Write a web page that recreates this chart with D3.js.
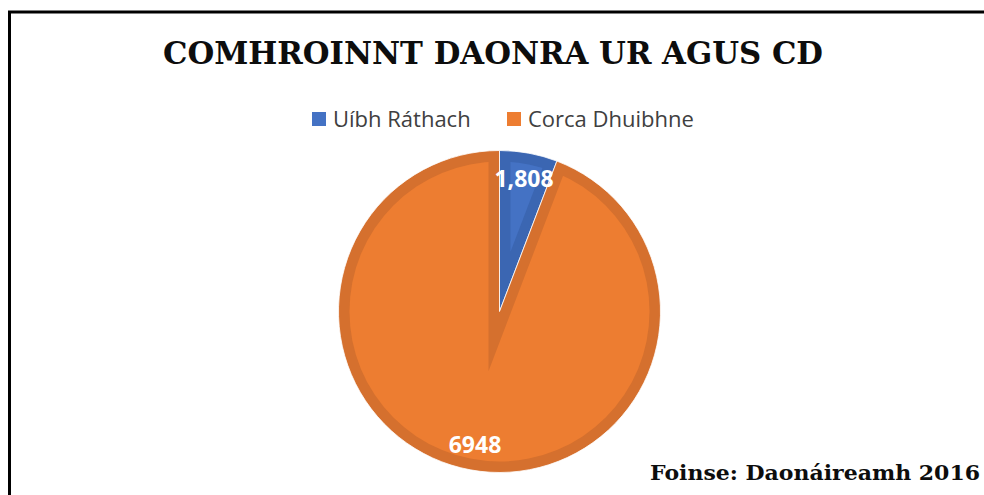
<!DOCTYPE html>
<html>
<head>
  <meta charset="utf-8">
  <title>Comhroinnt Daonra</title>
  <style>
    body, html {
      margin: 0;
      padding: 0;
      background: #fff;
      overflow: hidden;
    }
    svg { display: block; }
  </style>
</head>
<body>
  <svg id="svg" width="984" height="495"></svg>

  <script src="https://d3js.org/d3.v7.min.js"></script>
  <script>
    // chart data
    const categories = ["Uíbh Ráthach", "Corca Dhuibhne"]
    const labels = ["1,808", "6948"]          // data labels as printed
    const shares = [5.8, 94.2]                // slice sizes as drawn (% of circle)
    const title = "COMHROINNT DAONRA UR AGUS CD"
    const source = "Foinse: Daonáireamh 2016"

    const lightColors = ["#4472c4", "#ed7d31"]
    const darkColors = ["#3b66b2", "#d5702e"]

    const cx = 499.5
    const cy = 311.5
    const radius = 161
    const bevel = 11

    const svg = d3.select("#svg")

    // frame (right and bottom edges fall outside the picture)
    svg.append("rect")
      .attr("x", 9.5)
      .attr("y", 12)
      .attr("width", 1000)
      .attr("height", 600)
      .attr("fill", "none")
      .attr("stroke", "#000")
      .attr("stroke-width", 3)

    svg.append("text")
      .attr("x", 493)
      .attr("y", 64)
      .attr("text-anchor", "middle")
      .attr("font-family", "'DejaVu Serif', serif")
      .attr("font-weight", "bold")
      .attr("font-size", 31)
      .attr("textLength", 660)
      .attr("lengthAdjust", "spacingAndGlyphs")
      .attr("fill", "#0d0d0d")
      .text(title)

    // legend
    const legendX = [312, 507]
    const legend = svg.append("g")
      .selectAll("g")
      .data(categories)
      .join("g")
      .attr("transform", (d, i) => `translate(${legendX[i]}, 112)`)

    legend.append("rect")
      .attr("width", 14)
      .attr("height", 14)
      .attr("fill", (d, i) => lightColors[i])

    legend.append("text")
      .attr("x", 21)
      .attr("y", 14.8)
      .attr("font-family", "'Open Sans', sans-serif")
      .attr("font-size", 22)
      .attr("fill", "#404040")
      .text(d => d)

    // pie
    const pie = d3.pie().sort(null).value(d => d)
    const arcs = pie(shares)

    const arcGen = d3.arc().innerRadius(0).outerRadius(radius)
    const wedgeGen = d3.arc().innerRadius(0).outerRadius(radius * 2)
    const labelArc = d3.arc().innerRadius(radius * 0.84).outerRadius(radius * 0.84)

    const defs = svg.append("defs")
    defs.append("clipPath")
      .attr("id", "innerDisc")
      .append("circle")
      .attr("r", radius - bevel)

    const graph = svg.append("g")
      .attr("transform", `translate(${cx}, ${cy})`)

    const slices = graph.selectAll("g.slice")
      .data(arcs)
      .join("g")
      .attr("class", "slice")

    slices.append("path")
      .attr("d", arcGen)
      .attr("fill", (d, i) => darkColors[i])
      .attr("stroke", "#fff")
      .attr("stroke-width", 0.8)
      .attr("stroke-linejoin", "round")

    // inset face of each slice, edges pushed in by the bevel width
    slices.append("g")
      .attr("clip-path", "url(#innerDisc)")
      .append("path")
      .attr("d", wedgeGen)
      .attr("transform", d => {
        const half = (d.endAngle - d.startAngle) / 2
        const mid = d.startAngle + half
        const off = bevel / Math.sin(half)
        return `translate(${Math.sin(mid) * off}, ${-Math.cos(mid) * off})`
      })
      .attr("fill", (d, i) => lightColors[i])

    graph.selectAll("text.label")
      .data(arcs)
      .join("text")
      .attr("class", "label")
      .attr("transform", d => `translate(${labelArc.centroid(d)})`)
      .attr("text-anchor", "middle")
      .attr("dy", "0.36em")
      .attr("font-family", "'Open Sans', sans-serif")
      .attr("font-weight", "bold")
      .attr("font-size", 23)
      .attr("fill", "#fff")
      .text((d, i) => labels[i])

    svg.append("text")
      .attr("x", 650)
      .attr("y", 480)
      .attr("font-family", "'DejaVu Serif', serif")
      .attr("font-weight", "bold")
      .attr("font-size", 21)
      .attr("textLength", 330)
      .attr("lengthAdjust", "spacingAndGlyphs")
      .attr("fill", "#0d0d0d")
      .text(source)
  </script>
</body>
</html>
